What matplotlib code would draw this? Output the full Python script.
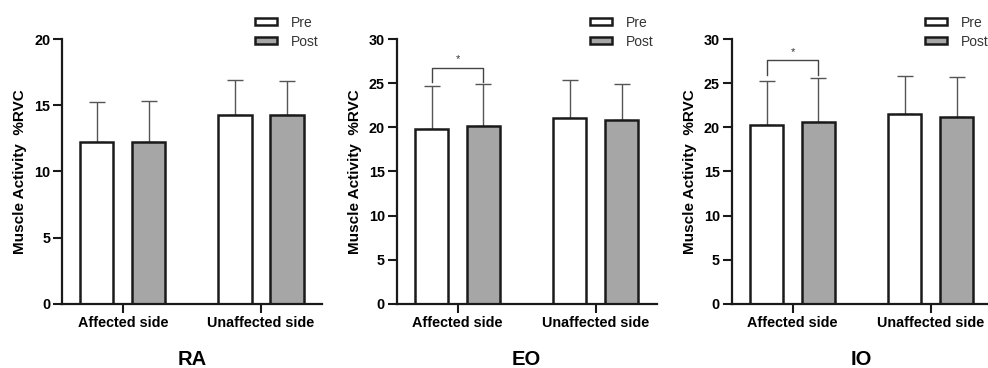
import numpy as np
import matplotlib
matplotlib.use("Agg")
import matplotlib.pyplot as plt
from matplotlib.patches import Patch

plt.rcParams['font.family'] = ['Liberation Sans', 'DejaVu Sans']

groups = ["Affected side", "Unaffected side"]
muscles = ["RA", "EO", "IO"]
y_max = [20, 30, 30]

# mean and upper error (top of whisker)
pre_mean = [[12.2, 14.3], [19.8, 21.1], [20.3, 21.5]]
pre_top = [[15.25, 16.9], [24.7, 25.35], [25.3, 25.85]]
post_mean = [[12.25, 14.25], [20.15, 20.8], [20.55, 21.2]]
post_top = [[15.3, 16.8], [24.95, 24.85], [25.6, 25.7]]

# significance bracket: (panel, bracket top, leg bottom)
sig = {1: (26.75, 25.1), 2: (27.6, 25.9)}

fig = plt.figure(figsize=(9.88, 3.68), dpi=100)
lefts = [62 / 988, 396.7 / 988, 731.7 / 988]

x = np.arange(len(groups))
w = 0.24
off = 0.188
edge = '#1a1a1a'
errc = '#555555'

for i, m in enumerate(muscles):
    ax = fig.add_axes([lefts[i], 0.174, 0.263, 0.72])
    pm = np.array(pre_mean[i])
    qm = np.array(post_mean[i])
    pe = np.array(pre_top[i]) - pm
    qe = np.array(post_top[i]) - qm
    ax.errorbar(x - off, pm, yerr=[np.zeros(2), pe], fmt='none', ecolor=errc,
                elinewidth=1.0, capsize=5.5, capthick=1.0, zorder=1)
    ax.errorbar(x + off, qm, yerr=[np.zeros(2), qe], fmt='none', ecolor=errc,
                elinewidth=1.0, capsize=5.5, capthick=1.0, zorder=1)
    ax.bar(x - off, pm, w, color='white', edgecolor=edge, linewidth=1.8, zorder=2)
    ax.bar(x + off, qm, w, color='#a6a6a6', edgecolor=edge, linewidth=1.8, zorder=2)

    if i in sig:
        top, leg = sig[i]
        ax.plot([-off, -off, off, off], [leg, top, top, leg], color='#444444', lw=1.0)
        ax.text(0, top + 0.25 * y_max[i] / 20, '*', ha='center', va='bottom',
                fontsize=8, color='#333333')

    ax.set_xlim(-0.44, 1.44)
    ax.set_ylim(0, y_max[i])
    ax.set_yticks(np.arange(0, y_max[i] + 1, 5))
    ax.set_xticks(x)
    ax.set_xticklabels(groups, fontweight='bold', fontsize=10.4)
    for t in ax.get_yticklabels():
        t.set_fontweight('bold')
        t.set_fontsize(10.4)
    ax.tick_params(axis='both', direction='out', length=6.5, width=1.5, color=edge, pad=2)
    for s in ['top', 'right']:
        ax.spines[s].set_visible(False)
    for s in ['left', 'bottom']:
        ax.spines[s].set_linewidth(1.6)
        ax.spines[s].set_color(edge)
    ax.spines['left'].set_zorder(3)
    ax.spines['bottom'].set_zorder(3)
    ax.set_ylabel('Muscle Activity  %RVC', fontweight='bold', fontsize=11, labelpad=5)
    ax.text(0.5, -0.23, m, transform=ax.transAxes, ha='center', va='baseline',
            fontsize=14.5, fontweight='bold')

    handles = [Patch(facecolor='white', edgecolor=edge, linewidth=1.8, label='Pre'),
               Patch(facecolor='#a6a6a6', edgecolor=edge, linewidth=1.8, label='Post')]
    leg = ax.legend(handles=handles, loc='upper left', bbox_to_anchor=(0.743, 1.088),
                    frameon=False, fontsize=10, handlelength=1.6, handleheight=0.4,
                    labelspacing=0.35, handletextpad=1.0, borderpad=0, borderaxespad=0)
    for t in leg.get_texts():
        t.set_color('#333333')

fig.savefig('out.png', dpi=100)
